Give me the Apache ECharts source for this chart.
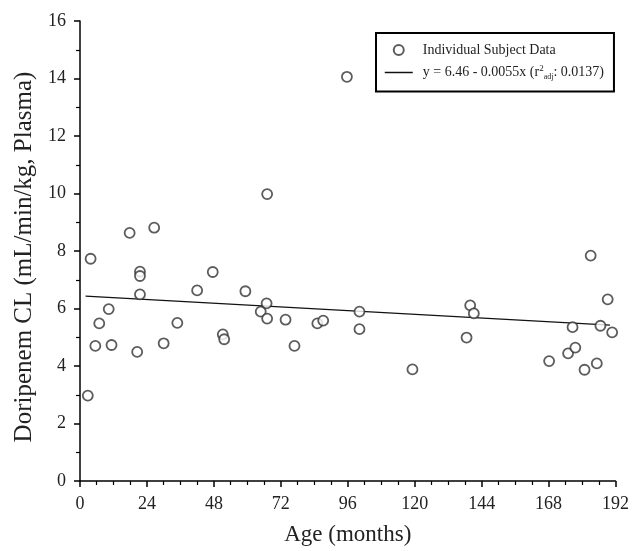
<!DOCTYPE html>
<html>
<head>
<meta charset="utf-8">
<script src="https://cdn.jsdelivr.net/npm/echarts@6/dist/echarts.min.js"></script>
<style>
	html, body { margin: 0; padding: 0; background: #fff; }
	#chart { width: 632px; height: 551px; }
</style>
</head>
<body>
<div id="chart"></div>
<script>
// ages in months
var ages = [2.8, 3.8, 5.5, 6.9, 10.3, 11.3, 17.8, 26.6, 20.5, 21.5, 21.5, 21.5, 30, 34.9, 42, 47.6, 51.2, 51.7,
	59.3, 67.1, 64.8, 66.9, 67.1, 73.7, 76.9, 85.1, 87.2, 95.7, 100.2, 100.2, 119.2, 139.9, 141.2, 138.6,
	168.2, 175, 177.6, 176.6, 180.9, 183.1, 185.3, 186.6, 189.2, 190.8];
// clearance values (mL/min/kg)
var clValues = [2.97, 7.73, 4.70, 5.48, 5.98, 4.73, 8.63, 8.81, 4.49, 7.28, 7.13, 6.49, 4.79, 5.50, 6.63, 7.27, 5.10, 4.93,
	6.60, 9.98, 5.89, 6.18, 5.65, 5.61, 4.70, 5.48, 5.58, 14.06, 5.89, 5.28, 3.88, 6.11, 5.83, 4.99,
	4.17, 4.44, 4.64, 5.35, 3.87, 7.84, 4.09, 5.40, 6.32, 5.17];
// fitted line end points: y = 6.46 - 0.0055x
var fitLine = [[2, 6.43], [190, 5.42]];
var xTicks = [0, 24, 48, 72, 96, 120, 144, 168, 192];
var yTicks = [0, 2, 4, 6, 8, 10, 12, 14, 16];

var points = [];
for (var i = 0; i < ages.length; i++) {
	points.push([ages[i], clValues[i]]);
}

var serif = '"Liberation Serif", "DejaVu Serif", serif';

var myChart = echarts.init(document.getElementById('chart'));
var option = {
	animation: false,
	backgroundColor: '#fff',
	grid: {
		left: 80,
		right: 16,
		top: 21,
		bottom: 70
	},
	legend: {
		orient: 'vertical',
		left: 376,
		top: 33,
		padding: [9, 10, 11, 8],
		borderColor: '#000',
		borderWidth: 2,
		borderRadius: 0,
		itemWidth: 28,
		itemHeight: 10,
		itemGap: 6,
		lineStyle: { color: '#111', width: 1.5 },
		textStyle: {
			fontFamily: serif,
			fontSize: 14,
			lineHeight: 16,
			color: '#222',
			padding: [0, 0, 0, 5],
			rich: {
				sup: { fontFamily: serif, fontSize: 9, padding: [0, 0, 8, 0], color: '#222' },
				sub: { fontFamily: serif, fontSize: 8, padding: [8, 0, 0, 0], color: '#222' }
			}
		},
		data: [
			'Individual Subject Data',
			{ name: 'fit', itemStyle: { opacity: 0 } }
		],
		formatter: function (name) {
			if (name === 'fit') {
				return 'y = 6.46 - 0.0055x (r{sup|2}{sub|adj}: 0.0137)';
			}
			return name;
		}
	},
	xAxis: {
		type: 'value',
		min: 0,
		max: 192,
		interval: 24,
		name: 'Age (months)',
		nameLocation: 'middle',
		nameGap: 42,
		nameTextStyle: { fontFamily: serif, fontSize: 23, color: '#222' },
		axisLine: { lineStyle: { color: '#000', width: 1.5 } },
		axisTick: { show: true, length: 6, lineStyle: { color: '#000', width: 1.5 } },
		minorTick: { show: true, splitNumber: 4, length: 4, lineStyle: { color: '#000', width: 1.2 } },
		axisLabel: {
			fontFamily: serif, fontSize: 18, color: '#222', margin: 14,
			formatter: function (v) { return xTicks.indexOf(v) >= 0 ? v : ''; }
		},
		splitLine: { show: false }
	},
	yAxis: {
		type: 'value',
		min: 0,
		max: 16,
		interval: 2,
		name: 'Doripenem CL (mL/min/kg, Plasma)',
		nameLocation: 'middle',
		nameGap: 42,
		nameTextStyle: { fontFamily: serif, fontSize: 25, color: '#222', padding: [0, 12, 0, 0] },
		axisLine: { show: true, lineStyle: { color: '#000', width: 1.5 } },
		axisTick: { show: true, length: 6, lineStyle: { color: '#000', width: 1.5 } },
		minorTick: { show: true, splitNumber: 2, length: 4, lineStyle: { color: '#000', width: 1.2 } },
		axisLabel: {
			fontFamily: serif, fontSize: 18, color: '#222', margin: 14,
			formatter: function (v) { return yTicks.indexOf(v) >= 0 ? v : ''; }
		},
		splitLine: { show: false }
	},
	series: [
		{
			name: 'Individual Subject Data',
			type: 'scatter',
			symbol: 'circle',
			symbolSize: 10,
			itemStyle: { color: '#fff', borderColor: '#333', borderWidth: 1.8 },
			data: points,
			z: 3
		},
		{
			name: 'fit',
			type: 'line',
			symbol: 'none',
			itemStyle: { color: '#111' },
			lineStyle: { color: '#111', width: 1.3 },
			data: fitLine,
			z: 2
		}
	]
};
myChart.setOption(option);
</script>
</body>
</html>
